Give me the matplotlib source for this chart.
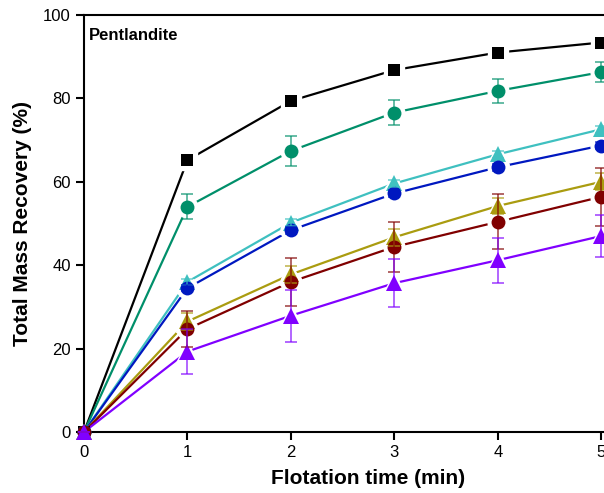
import matplotlib.pyplot as plt

plt.rcParams['font.family'] = ['Liberation Sans', 'DejaVu Sans']

# flotation time (min)
time = [0, 1, 2, 3, 4, 5]

# total mass recovery (%) per series
black_sq = [0, 65.2, 79.4, 86.8, 91.0, 93.4]
green_ci = [0, 54.0, 67.4, 76.6, 81.8, 86.3]
cyan_tr = [0, 36.0, 50.2, 59.6, 66.6, 72.6]
blue_ci = [0, 34.5, 48.4, 57.2, 63.5, 68.7]
olive_tr = [0, 26.5, 37.8, 46.7, 54.2, 60.0]
red_ci = [0, 24.7, 36.0, 44.4, 50.4, 56.4]
purple_tr = [0, 19.3, 27.9, 35.7, 41.2, 47.0]

# error bars (+/-)
black_err = [0, 0.5, 0.5, 0.5, 0.5, 0.5]
green_err = [0, 3.0, 3.6, 2.9, 2.8, 2.4]
cyan_err = [0, 0.8, 0.8, 0.8, 0.8, 0.8]
blue_err = [0, 0.8, 0.8, 0.8, 0.8, 0.8]
olive_err = [0, 2.0, 2.0, 2.0, 2.0, 2.0]
red_err = [0, 4.2, 5.7, 6.0, 6.6, 7.0]
purple_err = [0, 5.4, 6.2, 5.8, 5.4, 5.0]

series = [
    (black_sq, black_err, '#000000', 's', 9),
    (green_ci, green_err, '#008f6a', 'o', 10),
    (cyan_tr, cyan_err, '#3fc0c0', '^', 11.5),
    (blue_ci, blue_err, '#0018c0', 'o', 10),
    (olive_tr, olive_err, '#aa9c10', '^', 11.5),
    (red_ci, red_err, '#800000', 'o', 10),
    (purple_tr, purple_err, '#8000ff', '^', 11.5),
]

fig = plt.figure(figsize=(6.04, 4.93), dpi=100)
ax = fig.add_axes([84 / 604, 61 / 493, 569 / 604, 417 / 493])

for vals, err, col, mk, ms in series:
    # connecting line
    ax.plot(time, vals, color=col, lw=1.6, zorder=2, clip_on=False)
    # white halo so the line stops short of each marker
    ax.plot(time, vals, ls='none', marker=mk, ms=ms + 5, color='white',
            markevery=slice(1, None), zorder=3, clip_on=False)
    # markers
    ax.plot(time, vals, ls='none', marker=mk, ms=ms, color=col, mew=0,
            zorder=4, clip_on=False)
    # error bars
    ax.errorbar(time, vals, yerr=err, fmt='none', ecolor=col, elinewidth=1.2,
                capsize=4, capthick=1.2, alpha=0.7, zorder=5, clip_on=False)

ax.set_xlim(0, 5.5)
ax.set_ylim(0, 100)
ax.set_xticks(time)
ax.set_yticks([0, 20, 40, 60, 80, 100])
ax.tick_params(direction='out', length=6, width=1.5, labelsize=12)
for s in ax.spines.values():
    s.set_linewidth(1.5)

ax.set_xlabel('Flotation time (min)', fontsize=15, fontweight='bold', labelpad=6)
ax.set_ylabel('Total Mass Recovery (%)', fontsize=15, fontweight='bold', labelpad=8)
ax.text(0.05, 97, 'Pentlandite', fontsize=12, fontweight='bold', va='top', ha='left')

fig.savefig('out.png', dpi=100)
